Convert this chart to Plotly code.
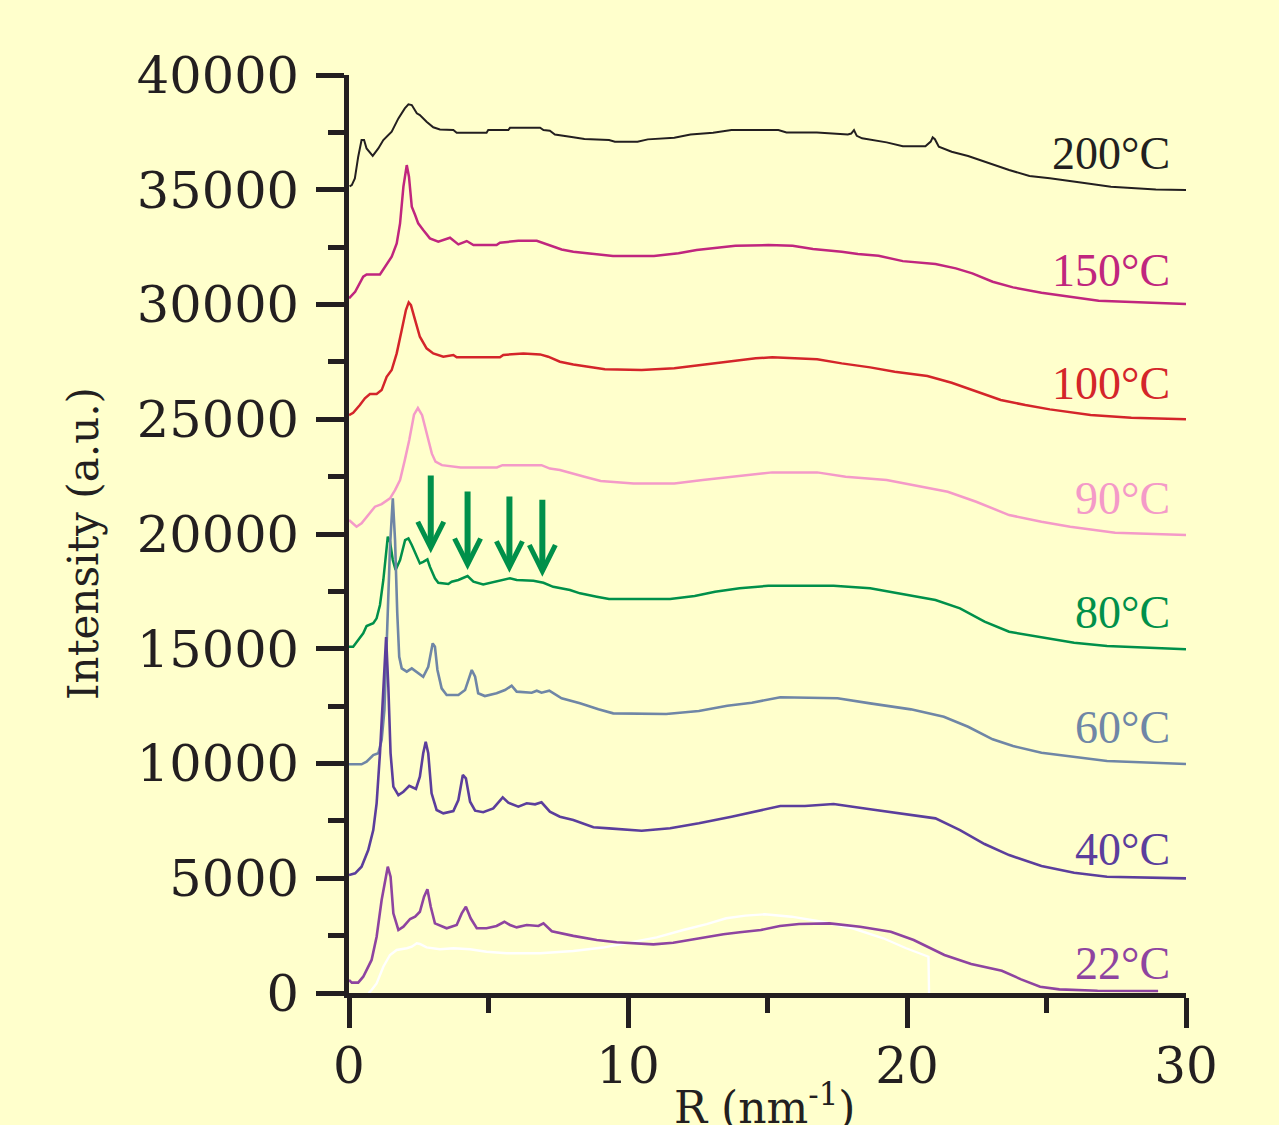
import plotly.graph_objects as go

# ---------------- data ----------------
R_200 = [0.02, 0.1, 0.21, 0.33, 0.45, 0.54, 0.63, 0.85, 1.05, 1.23, 1.53, 1.77, 2.0, 2.13, 2.25, 2.43, 2.54, 2.78, 3.02, 3.26,
         3.74, 3.86, 4.93, 4.99, 5.71, 5.77, 6.85, 6.97, 7.2, 7.38, 7.92, 8.44, 9.32, 9.53, 10.34, 10.71, 11.66, 12.24, 13.05,
         13.71, 15.39, 15.68, 16.77, 17.88, 18.0, 18.1, 18.2, 18.39, 19.27, 19.85, 20.66, 20.85, 20.92, 21.0, 21.14, 21.6,
         22.19, 22.78, 23.66, 24.39, 25.12, 26.29, 27.31, 28.92, 30]
I_200 = [35150, 35205, 35495, 36440, 37165, 37165, 36800, 36480, 36800, 37165, 37530, 38110, 38545, 38720, 38690, 38330,
         38255, 37960, 37720, 37630, 37600, 37485, 37485, 37600, 37600, 37700, 37700, 37600, 37570, 37410, 37310, 37210,
         37165, 37090, 37090, 37195, 37265, 37410, 37485, 37600, 37600, 37500, 37500, 37410, 37450, 37600, 37350, 37240,
         37065, 36900, 36900, 37100, 37280, 37200, 36875, 36655, 36470, 36220, 35860, 35600, 35500, 35305, 35130, 35015,
         34990]

R_150 = [0.0, 0.22, 0.51, 0.63, 1.11, 1.29, 1.53, 1.71, 1.83, 1.95, 2.07, 2.15, 2.25, 2.37, 2.48, 2.66, 2.9, 3.2, 3.62,
         3.92, 4.22, 4.46, 5.29, 5.41, 6.07, 6.73, 7.09, 7.62, 8.04, 8.59, 9.46, 10.93, 11.81, 12.46, 13.27, 13.85, 15.03,
         15.9, 16.63, 17.66, 18.24, 18.98, 19.85, 21.02, 21.75, 22.34, 23.07, 23.8, 24.82, 25.7, 26.87, 28.77, 30]
I_150 = [30270, 30555, 31210, 31310, 31310, 31645, 32080, 32665, 33535, 35130, 36075, 35565, 34260, 33900, 33535, 33245,
         32880, 32735, 32910, 32620, 32765, 32590, 32590, 32690, 32780, 32780, 32635, 32400, 32300, 32230, 32110, 32110,
         32230, 32370, 32470, 32560, 32590, 32560, 32415, 32300, 32200, 32125, 31890, 31760, 31575, 31355, 30990, 30745,
         30510, 30370, 30165, 30075, 30020]

R_100 = [0.0, 0.15, 0.39, 0.57, 0.75, 0.99, 1.17, 1.35, 1.53, 1.71, 1.89, 2.04, 2.14, 2.22, 2.37, 2.54, 2.78, 3.02, 3.38,
         3.74, 3.86, 5.41, 5.53, 6.25, 6.85, 7.14, 7.56, 8.04, 9.17, 10.49, 11.66, 12.54, 13.71, 14.58, 15.17, 16.78, 17.66,
         18.68, 19.56, 20.73, 21.6, 22.48, 23.36, 24.24, 25.12, 26.58, 28.04, 30]
I_100 = [25180, 25285, 25620, 25910, 26100, 26100, 26270, 26850, 27145, 27870, 28890, 29760, 30090, 29975, 29320, 28595,
         28090, 27870, 27725, 27800, 27700, 27700, 27800, 27870, 27825, 27725, 27505, 27390, 27175, 27145, 27220, 27360,
         27535, 27655, 27700, 27610, 27435, 27260, 27070, 26880, 26590, 26200, 25840, 25620, 25430, 25185, 25065, 25000]

R_90 = [0.0, 0.27, 0.45, 0.69, 0.93, 1.17, 1.47, 1.65, 1.83, 2.0, 2.16, 2.33, 2.47, 2.62, 2.84, 2.97, 3.1, 3.33, 4.0, 5.3,
        5.5, 6.9, 7.2, 7.56, 8.44, 9.02, 10.2, 11.66, 12.68, 14.0, 15.17, 16.78, 17.8, 19.27, 20.44, 21.46, 22.48, 23.66,
        24.82, 25.85, 27.46, 30]
I_90 = [20610, 20315, 20465, 20825, 21190, 21305, 21555, 21915, 22350, 23220, 24100, 25200, 25490, 25180, 24100, 23500,
        23150, 23000, 22900, 22900, 23000, 23000, 22850, 22790, 22495, 22310, 22205, 22205, 22350, 22540, 22685, 22685,
        22495, 22350, 22090, 21840, 21405, 20825, 20535, 20315, 20055, 19955]

R_80 = [0.0, 0.15, 0.33, 0.51, 0.63, 0.87, 0.99, 1.11, 1.23, 1.32, 1.39, 1.47, 1.57, 1.67, 1.83, 2.01, 2.13, 2.25, 2.54,
        2.66, 2.81, 2.9, 3.08, 3.2, 3.56, 3.68, 3.92, 4.25, 4.46, 4.81, 5.29, 5.77, 6.01, 6.61, 6.97, 7.32, 7.92, 8.28,
        8.88, 9.32, 11.51, 12.39, 13.12, 14.0, 15.03, 17.37, 18.68, 19.85, 21.02, 21.9, 22.78, 23.66, 24.82, 25.99, 27.17,
        30]
I_80 = [15090, 15090, 15380, 15670, 15990, 16110, 16325, 16905, 17995, 19160, 19880, 19665, 18865, 18430, 18865, 19735,
        19810, 19520, 18720, 18790, 18895, 18575, 18070, 17875, 17820, 17920, 17995, 18170, 17920, 17805, 17950, 18070,
        17995, 17965, 17875, 17700, 17560, 17415, 17265, 17165, 17165, 17295, 17485, 17635, 17745, 17745, 17635, 17370,
        17125, 16760, 16180, 15740, 15500, 15260, 15120, 14975]

R_60 = [0.0, 0.45, 0.63, 0.87, 1.05, 1.17, 1.27, 1.35, 1.41, 1.47, 1.57, 1.65, 1.73, 1.8, 1.89, 2.07, 2.25, 2.43, 2.66,
        2.84, 3.0, 3.08, 3.17, 3.32, 3.5, 3.92, 4.16, 4.4, 4.52, 4.63, 4.87, 5.29, 5.59, 5.83, 6.01, 6.55, 6.73, 6.9, 7.18,
        7.62, 8.28, 8.94, 9.47, 11.37, 12.54, 13.56, 14.44, 15.46, 17.51, 18.68, 20.14, 21.32, 22.19, 23.07, 23.8, 24.82,
        25.99, 27.17, 30]
I_60 = [9965, 9965, 10080, 10370, 10445, 11025, 12330, 15090, 16830, 19445, 21555, 19735, 16545, 14650, 14145, 14000,
        14145, 14000, 13780, 14215, 15235, 15090, 14075, 13275, 12985, 12985, 13200, 14075, 13780, 13060, 12940, 13060,
        13200, 13390, 13130, 13085, 13170, 13085, 13170, 12840, 12620, 12360, 12185, 12155, 12285, 12520, 12650, 12885,
        12840, 12620, 12360, 12040, 11600, 11055, 10760, 10470, 10295, 10110, 9980]

R_40 = [0.0, 0.22, 0.45, 0.69, 0.87, 0.99, 1.11, 1.21, 1.33, 1.41, 1.49, 1.59, 1.77, 1.95, 2.16, 2.4, 2.54, 2.66, 2.75,
        2.84, 2.96, 3.14, 3.38, 3.74, 3.92, 4.08, 4.19, 4.34, 4.52, 4.81, 5.17, 5.51, 5.71, 6.07, 6.37, 6.67, 6.9, 7.2,
        7.56, 8.04, 8.76, 9.32, 10.49, 11.51, 12.54, 13.71, 14.58, 15.46, 16.34, 17.37, 18.68, 20.14, 21.02, 21.9, 22.78,
        23.66, 24.82, 25.99, 27.17, 30]
I_40 = [5140, 5215, 5505, 6230, 7100, 8265, 10445, 12620, 15510, 13345, 10445, 8990, 8625, 8770, 9030, 8890, 9425, 10445,
        10950, 10445, 8700, 7975, 7830, 7930, 8410, 9500, 9355, 8335, 7945, 7875, 8045, 8525, 8290, 8120, 8265, 8220, 8310,
        7900, 7680, 7540, 7220, 7175, 7070, 7175, 7395, 7680, 7900, 8150, 8150, 8235, 8005, 7755, 7610, 7100, 6490, 6010,
        5535, 5240, 5065, 4995]

R_22 = [0.0, 0.1, 0.33, 0.51, 0.81, 0.99, 1.17, 1.29, 1.39, 1.49, 1.59, 1.77, 1.95, 2.19, 2.37, 2.54, 2.69, 2.81, 2.93,
        3.08, 3.5, 3.86, 4.04, 4.19, 4.36, 4.58, 4.93, 5.29, 5.57, 5.77, 6.01, 6.37, 6.79, 6.97, 7.27, 8.04, 8.88, 9.59,
        10.43, 10.91, 11.62, 12.58, 13.42, 14.01, 14.76, 15.44, 16.13, 17.23, 18.32, 19.42, 20.24, 21.34, 22.3, 23.4,
        24.09, 24.77, 25.46, 26.83, 29.0]
I_22 = [565, 450, 450, 710, 1440, 2455, 4050, 4780, 5505, 5065, 3470, 2745, 2890, 3225, 3325, 3540, 4195, 4520, 3760,
        3035, 2820, 2965, 3470, 3760, 3255, 2820, 2820, 2920, 3105, 2965, 2860, 2965, 2920, 3035, 2690, 2490, 2310, 2210,
        2165, 2120, 2190, 2385, 2560, 2645, 2745, 2920, 3005, 3035, 2890, 2670, 2310, 1655, 1265, 970, 595, 275, 160, 100,
        85]

R_WHITE = [0.7, 0.81, 0.99, 1.23, 1.47, 1.71, 2.07, 2.25, 2.43, 2.54, 2.78, 3.26, 3.74, 4.34, 4.93, 5.65, 6.85, 8.04,
           9.1, 10.07, 11.03, 11.98, 12.82, 13.52, 14.21, 14.9, 15.86, 16.95, 18.05, 19.15, 19.97, 20.77, 20.79]
I_WHITE = [0, 130, 420, 1145, 1655, 1875, 1950, 2015, 2165, 2135, 1990, 1905, 1950, 1905, 1800, 1730, 1730, 1830, 1980,
           2190, 2425, 2745, 3005, 3255, 3370, 3430, 3325, 3105, 2820, 2385, 1950, 1580, 0]

TEMPS = ["200°C", "150°C", "100°C", "90°C", "80°C", "60°C", "40°C", "22°C"]
SERIES_R = [R_200, R_150, R_100, R_90, R_80, R_60, R_40, R_22]
SERIES_I = [I_200, I_150, I_100, I_90, I_80, I_60, I_40, I_22]
LABEL_I = [36560, 31500, 26560, 21560, 16600, 11560, 6270, 1300]

# arrows marking the 80°C reflections: position, tip and tail intensity
ARROW_R = [2.93, 4.25, 5.75, 6.93]
ARROW_TIP = [19160, 18430, 18310, 18140]
ARROW_TAIL = [22610, 21915, 21700, 21555]

X_TICKS = [0, 10, 20, 30]
Y_TICKS = [0, 5000, 10000, 15000, 20000, 25000, 30000, 35000, 40000]

# ---------------- styles ----------------
COLORS = ["#231F20", "#C0267E", "#D4252A", "#F49AC8", "#00904A", "#6F86A6", "#5B3E9C", "#8E44A0"]
WIDTHS = [2.0, 2.5, 2.5, 2.5, 2.5, 2.6, 2.6, 2.6]
BG = "#FFFFCC"
INK = "#231F20"
GREEN = "#00904A"

fig = go.Figure()

fig.add_trace(go.Scatter(x=R_WHITE, y=I_WHITE, mode="lines",
                         line=dict(color="#FFFFFF", width=2.4), hoverinfo="skip"))

for name, r, i, c, w in zip(TEMPS, SERIES_R, SERIES_I, COLORS, WIDTHS):
    fig.add_trace(go.Scatter(x=r, y=i, mode="lines", name=name,
                             line=dict(color=c, width=w)))

for name, yv, c in zip(TEMPS, LABEL_I, COLORS):
    fig.add_annotation(x=29.5, y=yv, xref="x", yref="y", text=name, showarrow=False,
                       xanchor="right", yanchor="middle",
                       font=dict(family="Liberation Serif", size=46, color=c))

for xr, tip, tail in zip(ARROW_R, ARROW_TIP, ARROW_TAIL):
    fig.add_annotation(x=xr, y=tip, ax=xr, ay=tail, xref="x", yref="y", axref="x", ayref="y",
                       text="", showarrow=True, arrowhead=5, arrowsize=0.85, arrowwidth=6,
                       arrowcolor=GREEN)

# axis titles
fig.add_annotation(x=-0.318, y=0.49, xref="paper", yref="paper", text="Intensity (a.u.)",
                   textangle=-90, showarrow=False, xanchor="center", yanchor="middle",
                   font=dict(family="DejaVu Serif", size=42, color=INK))
fig.add_annotation(x=0.497, y=-0.121, xref="paper", yref="paper", text="R (nm<sup>-1</sup>)",
                   showarrow=False, xanchor="center", yanchor="middle",
                   font=dict(family="DejaVu Serif", size=44, color=INK))

fig.update_xaxes(range=[0, 30], tickvals=X_TICKS, showline=True, linewidth=4.5, linecolor=INK,
                 ticks="outside", ticklen=30, tickwidth=4.5, tickcolor=INK,
                 minor=dict(ticks="outside", ticklen=15, tickwidth=4.5, tickcolor=INK, dtick=5),
                 tickfont=dict(family="DejaVu Serif", size=50, color=INK),
                 showgrid=False, zeroline=False, ticklabelstandoff=-5)
fig.update_yaxes(range=[0, 40000], tickvals=Y_TICKS, tickformat="d", showline=True, linewidth=4.5,
                 linecolor=INK, ticks="outside", ticklen=28, tickwidth=4.5, tickcolor=INK,
                 minor=dict(ticks="outside", ticklen=16, tickwidth=4.5, tickcolor=INK, dtick=2500),
                 tickfont=dict(family="DejaVu Serif", size=51, color=INK),
                 showgrid=False, zeroline=False, ticklabelstandoff=7)

fig.update_layout(width=1279, height=1125, margin=dict(l=349, r=93, t=75, b=132),
                  paper_bgcolor=BG, plot_bgcolor=BG, showlegend=False)

fig.write_html("out.html", config={"displayModeBar": False},
               post_script="document.body.style.margin='0';document.body.style.background='#FFFFCC';")
